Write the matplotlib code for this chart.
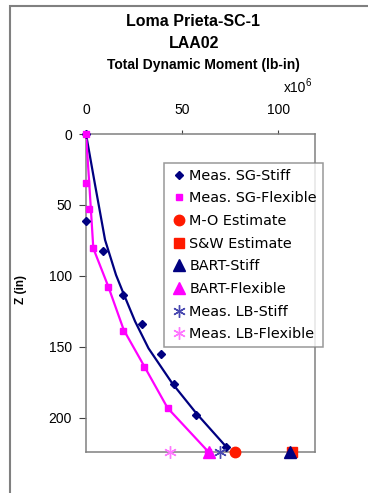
import matplotlib
matplotlib.use("Agg")
import matplotlib.pyplot as plt
from matplotlib.patches import Rectangle

plt.rcParams['font.family'] = ['Liberation Sans', 'DejaVu Sans']

# Measured strain-gauge moments (x1e6 lb-in) vs depth Z (in)
sg_stiff_m = [0, 0, 9.0, 19.1, 29.0, 38.9, 45.5, 57.3, 72.9]
sg_stiff_z = [0, 61, 82.4, 113.4, 134, 154.9, 176, 197.9, 220.6]
sg_flex_m = [0, 0, 1.7, 3.8, 11.6, 19.4, 29.9, 42.4, 63.2]
sg_flex_z = [0, 34.3, 53, 80.4, 108, 138.5, 164.3, 193, 224]

# Trend curves through the measured profiles
fit_stiff_m = [0, 4.6, 9.9, 15.6, 19.8, 25.5, 32.5, 44.8, 57.3, 73.3]
fit_stiff_z = [0, 35, 74.6, 99.3, 113.4, 132, 151, 175.6, 196.7, 221]
fit_flex_m = [0, 1.7, 3.8, 11.6, 19.6, 29.9, 42.4, 63.0]
fit_flex_z = [0, 35, 80.5, 107.5, 138, 162.7, 193, 223]

# Base-of-wall estimates
base_z = 224
mo_estimate = 77.6
sw_estimate = 107
bart_stiff = 106
bart_flex = 63.7
lb_stiff = 69.8
lb_flex = 43.4

x_ticks = [0, 50, 100]
y_ticks = [0, 50, 100, 150, 200]

NAVY = '#000080'
MAGENTA = '#FF00FF'
RED = '#FF1a00'
GRAY = '#808080'

W, H = 368, 493
fig = plt.figure(figsize=(W / 100, H / 100), dpi=100)
ax = fig.add_axes([86 / W, 1 - 452 / H, (315 - 86) / W, (452 - 134) / H])

ax.plot(fit_stiff_m, fit_stiff_z, color=NAVY, lw=1.6, zorder=3)
ax.plot(fit_flex_m, fit_flex_z, color=MAGENTA, lw=1.6, zorder=3)

h1, = ax.plot(sg_stiff_m, sg_stiff_z, ls='none', marker='D', ms=4.2, color=NAVY,
              label='Meas. SG-Stiff', zorder=4, clip_on=False)
h2, = ax.plot(sg_flex_m, sg_flex_z, ls='none', marker='s', ms=5, color=MAGENTA,
              label='Meas. SG-Flexible', zorder=4, clip_on=False)
h3, = ax.plot([mo_estimate], [base_z], ls='none', marker='o', ms=7.5, color=RED,
              label='M-O Estimate', zorder=5, clip_on=False)
h4, = ax.plot([sw_estimate], [base_z], ls='none', marker='s', ms=7, color=RED,
              label='S&W Estimate', zorder=5, clip_on=False)
h5, = ax.plot([bart_stiff], [base_z], ls='none', marker='^', ms=8, color=NAVY,
              label='BART-Stiff', zorder=6, clip_on=False)
h6, = ax.plot([bart_flex], [base_z], ls='none', marker='^', ms=8, color=MAGENTA,
              label='BART-Flexible', zorder=5, clip_on=False)
h7, = ax.plot([lb_stiff], [base_z], ls='none', marker=(6, 2, 0), ms=9, mew=1.0,
              color='#4848b0', label='Meas. LB-Stiff', zorder=5, clip_on=False)
h8, = ax.plot([lb_flex], [base_z], ls='none', marker=(6, 2, 0), ms=9, mew=1.0,
              color='#ff77ff', label='Meas. LB-Flexible', zorder=5, clip_on=False)

ax.set_xlim(0, 119)
ax.set_ylim(224, 0)
ax.xaxis.tick_top()
ax.set_xticks(x_ticks)
ax.set_yticks(y_ticks)
ax.tick_params(axis='x', direction='out', length=3, width=0.8, color='#404040',
               pad=9, labelsize=10)
ax.tick_params(axis='y', direction='out', length=5, width=0.8, color='#404040',
               pad=5, labelsize=10)
for s in ax.spines.values():
    s.set_color(GRAY)
    s.set_linewidth(1.1)

leg = fig.legend(handles=[h1, h2, h3, h4, h5, h6, h7, h8],
                 loc='upper left', bbox_to_anchor=(164 / W, 1 - 163 / H),
                 bbox_transform=fig.transFigure,
                 prop={'family': 'DejaVu Sans', 'size': 10.4},
                 frameon=True, fancybox=False, edgecolor=GRAY,
                 handlelength=1.3, handletextpad=0.05, labelspacing=0.6,
                 borderpad=0.4, borderaxespad=0)
leg.get_frame().set_linewidth(1.1)

fig.text(193.5 / W, 1 - 22 / H, 'Loma Prieta-SC-1', ha='center', va='center',
         fontsize=11.5, fontweight='bold')
fig.text(194 / W, 1 - 43 / H, 'LAA02', ha='center', va='center',
         fontsize=11.5, fontweight='bold')
fig.text(203 / W, 1 - 64.5 / H, 'Total Dynamic Moment (lb-in)', ha='center',
         va='center', fontsize=10, fontweight='bold')
fig.text(306 / W, 1 - 92 / H, 'x10', ha='right', va='baseline', fontsize=10)
fig.text(305.5 / W, 1 - 86 / H, '6', ha='left', va='baseline', fontsize=7)
fig.text(21 / W, 1 - 290 / H, 'Z (in)', ha='center', va='center',
         rotation=90, fontsize=8.5, fontweight='bold')

fig.patches.append(Rectangle((9.5 / W, -0.1), 1.0, 1 - 6.5 / H + 0.1,
                             transform=fig.transFigure, fill=False,
                             edgecolor=GRAY, linewidth=1.5))

fig.savefig('out.png', dpi=100)
